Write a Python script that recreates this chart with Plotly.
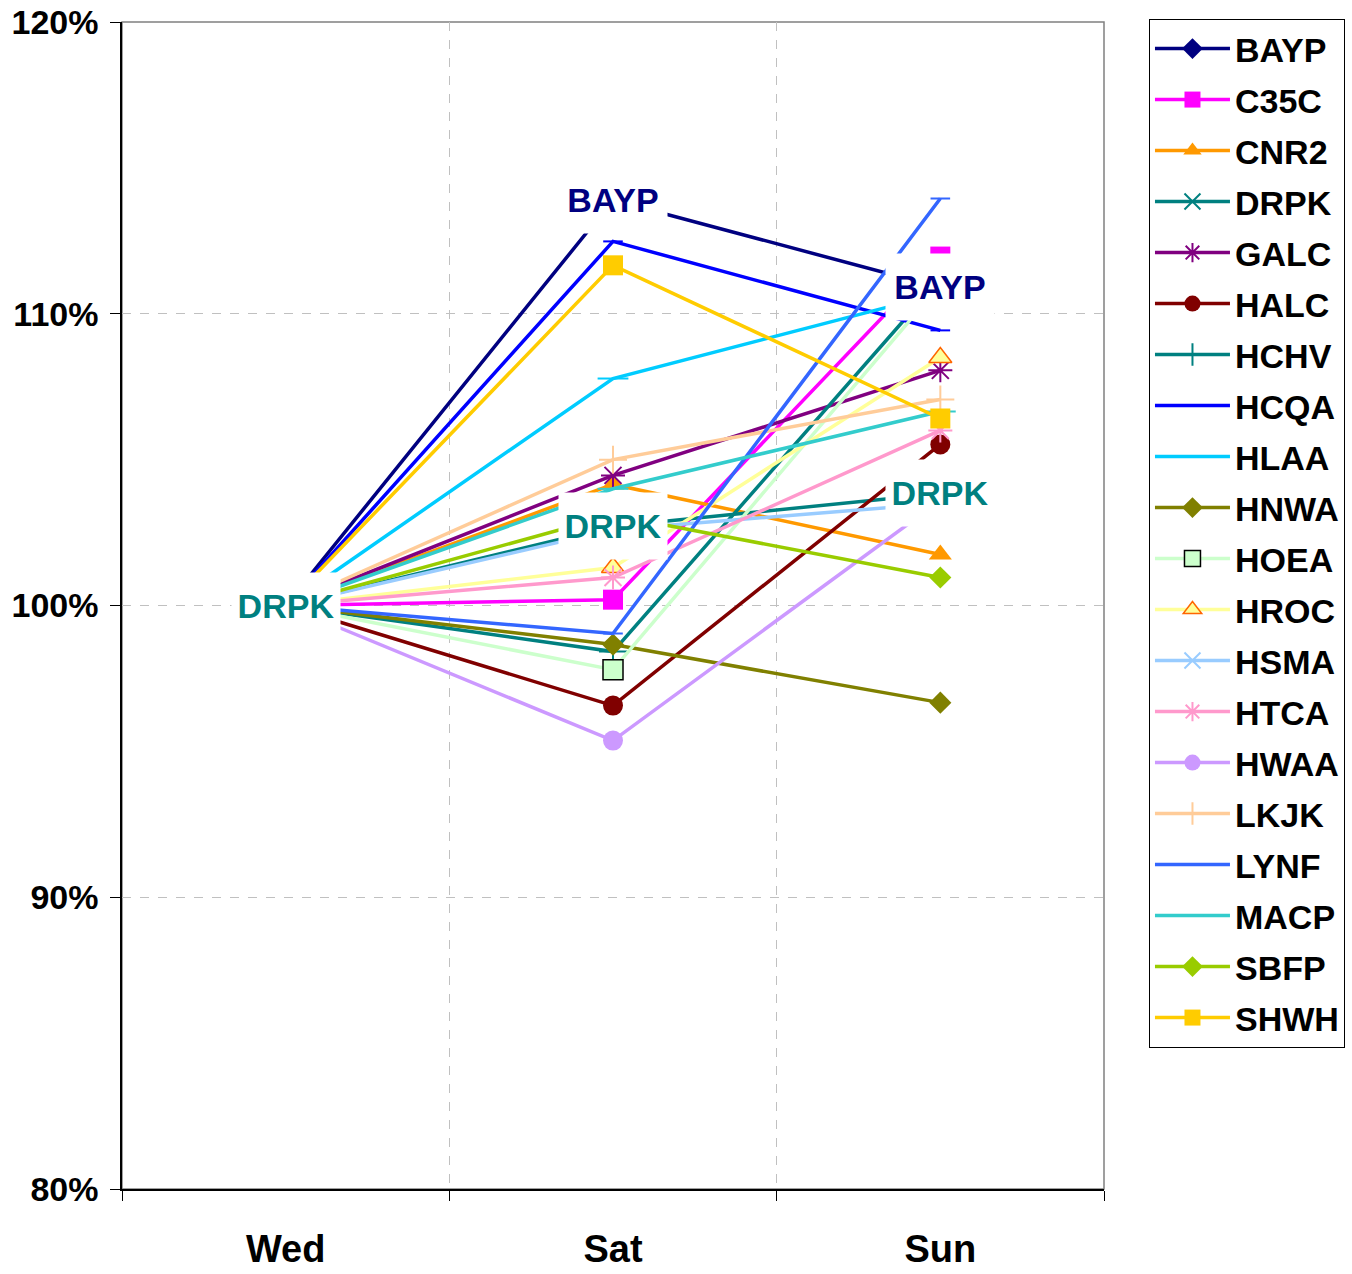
import plotly.graph_objects as go

# Days on the category axis
days = ["Wed", "Sat", "Sun"]

# Each site's value relative to Wednesday (1.0 = 100%)
BAYP = [1.0, 1.139, 1.109]
C35C = [1.0, 1.002, 1.1196]
CNR2 = [1.0, 1.0415, 1.0175]
DRPK = [1.0, 1.0271, 1.0384]
GALC = [1.0, 1.0446, 1.0806]
HALC = [1.0, 0.9657, 1.0552]
HCHV = [1.0, 0.9842, 1.112]
HCQA = [1.0, 1.1248, 1.0943]
HLAA = [1.0, 1.0778, 1.107]
HNWA = [1.0, 0.9866, 0.9667]
HOEA = [1.0, 0.978, 1.110]
HROC = [1.0, 1.013, 1.085]
HSMA = [1.0, 1.026, 1.035]
HTCA = [1.0, 1.0096, 1.060]
HWAA = [1.0, 0.9537, 1.036]
LKJK = [1.0, 1.050, 1.0706]
LYNF = [1.0, 0.9904, 1.1395]
MACP = [1.0, 1.040, 1.0665]
SBFP = [1.0, 1.031, 1.0096]
SHWH = [1.0, 1.1166, 1.0641]

y_ticks = [0.8, 0.9, 1.0, 1.1, 1.2]

FONT = "Liberation Sans, Arial, sans-serif"

# name, values, line colour, marker symbol, marker size, marker fill, marker outline
series = [
    ("BAYP", BAYP, "#000080", "diamond", 17, "#000080", None),
    ("C35C", C35C, "#FF00FF", "square", 20, "#FF00FF", None),
    ("CNR2", CNR2, "#FF9900", "triangle-up", 20, "#FF9900", None),
    ("DRPK", DRPK, "#008080", "x-thin-open", 18, None, "#008080"),
    ("GALC", GALC, "#800080", "asterisk-open", 20, None, "#800080"),
    ("HALC", HALC, "#800000", "circle", 20, "#800000", None),
    ("HCHV", HCHV, "#008080", "cross-thin-open", 20, None, "#008080"),
    ("HCQA", HCQA, "#0000FF", "line-ew-open", 14, None, "#0000FF"),
    ("HLAA", HLAA, "#00CCFF", "line-ew-open", 22, None, "#00CCFF"),
    ("HNWA", HNWA, "#808000", "diamond", 17, "#808000", None),
    ("HOEA", HOEA, "#CCFFCC", "square", 20, "#CCFFCC", "#000000"),
    ("HROC", HROC, "#FFFF99", "triangle-up", 20, "#FFFF99", "#FF6600"),
    ("HSMA", HSMA, "#99CCFF", "x-thin-open", 18, None, "#99CCFF"),
    ("HTCA", HTCA, "#FF99CC", "asterisk-open", 20, None, "#FF99CC"),
    ("HWAA", HWAA, "#CC99FF", "circle", 20, "#CC99FF", None),
    ("LKJK", LKJK, "#FFCC99", "cross-thin-open", 20, None, "#FFCC99"),
    ("LYNF", LYNF, "#3366FF", "line-ew-open", 14, None, "#3366FF"),
    ("MACP", MACP, "#33CCCC", "line-ew-open", 22, None, "#33CCCC"),
    ("SBFP", SBFP, "#99CC00", "diamond", 17, "#99CC00", None),
    ("SHWH", SHWH, "#FFCC00", "square", 20, "#FFCC00", None),
]

fig = go.Figure()
for name, vals, color, symbol, size, fill, outline in series:
    marker = dict(symbol=symbol, size=size)
    if fill is not None:
        marker["color"] = fill
        marker["line"] = dict(color=outline or fill, width=1.5 if outline else 0)
    else:
        marker["color"] = outline
        marker["line"] = dict(color=outline, width=2)
    fig.add_trace(go.Scatter(
        x=days, y=vals, name=name, mode="lines+markers",
        line=dict(color=color, width=3.5),
        marker=marker, legendgroup=name,
    ))

# Name labels sitting on selected points
labels = [
    ("DRPK", "Wed", DRPK[0], "#008080"),
    ("BAYP", "Sat", BAYP[1], "#000080"),
    ("DRPK", "Sat", DRPK[1], "#008080"),
    ("BAYP", "Sun", BAYP[2], "#000080"),
    ("DRPK", "Sun", DRPK[2], "#008080"),
]
for text, x, y, color in labels:
    fig.add_annotation(
        x=x, y=y, xref="x", yref="y", text=text, showarrow=False,
        font=dict(family=FONT, size=34, color=color, weight="bold"),
        bgcolor="white", width=102, height=60, borderpad=3,
        xanchor="center", yanchor="middle",
    )

# Grey frame around the plotting area
fig.add_shape(type="rect", xref="paper", yref="paper", x0=0, x1=1, y0=0, y1=1,
              line=dict(color="#808080", width=1.5), layer="below")

fig.update_layout(
    template="none",
    width=1352, height=1274,
    margin=dict(l=122, r=248, t=22, b=85, autoexpand=False),
    paper_bgcolor="white", plot_bgcolor="white",
    font=dict(family=FONT, color="black"),
    showlegend=True,
    legend=dict(
        x=1.0458, y=1.0026, xanchor="left", yanchor="top",
        font=dict(family=FONT, size=34, color="black", weight="bold"),
        bordercolor="#000000", borderwidth=1, bgcolor="white",
        tracegroupgap=3.8, traceorder="grouped",
        itemwidth=75, maxheight=1.0,
    ),
)

fig.update_xaxes(
    type="category", categoryorder="array", categoryarray=days,
    range=[-0.5, 2.5], tickson="boundaries", automargin=False,
    ticks="outside", ticklen=10, tickcolor="black", tickwidth=1,
    showline=True, linecolor="black", linewidth=1.5,
    showgrid=True, gridcolor="#C0C0C0", griddash="dash", gridwidth=1,
    tickfont=dict(family=FONT, size=38, color="black", weight="bold"),
    ticklabelstandoff=26,
)
fig.update_yaxes(
    range=[0.8, 1.2], tickvals=y_ticks, tickformat=".0%", automargin=False,
    ticks="outside", ticklen=10, tickcolor="black", tickwidth=1,
    showline=True, linecolor="black", linewidth=1.5,
    showgrid=True, gridcolor="#C0C0C0", griddash="dash", gridwidth=1,
    zeroline=False,
    tickfont=dict(family=FONT, size=34, color="black", weight="bold"),
    ticklabelstandoff=5,
)

fig.write_html(
    "out.html",
    post_script="document.body.style.margin='0';",
)
